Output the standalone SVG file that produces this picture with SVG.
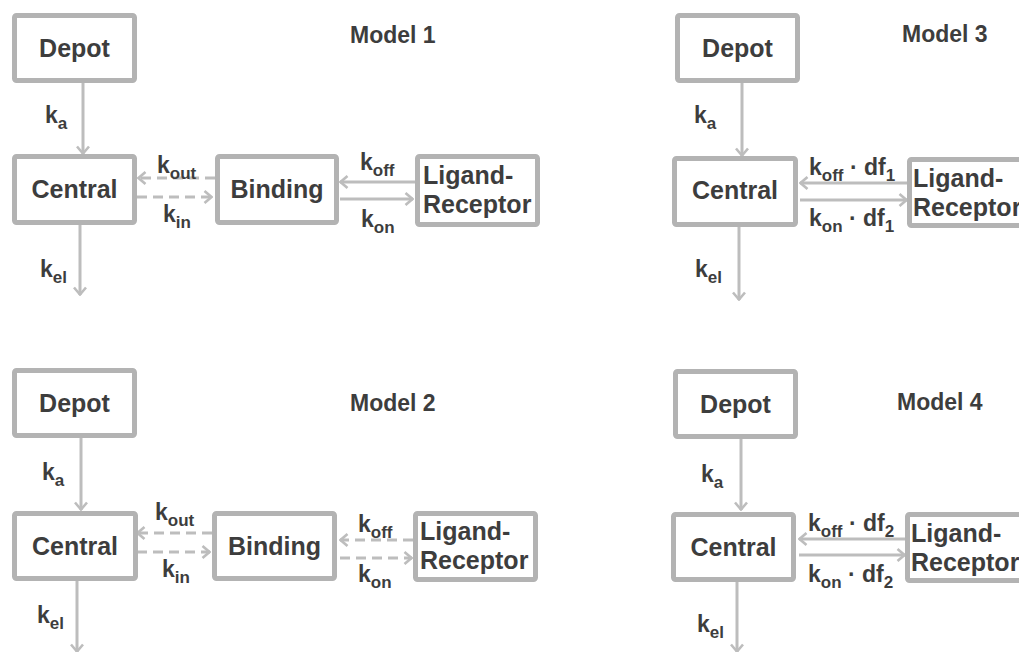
<svg xmlns="http://www.w3.org/2000/svg" width="1019" height="652" viewBox="0 0 1019 652">
  <style>
    .box { fill: #ffffff; stroke: #b3b3b3; stroke-width: 5; }
    .lbl { font-family: "Liberation Sans", Arial, sans-serif; font-weight: bold; fill: #3d3d3d; }
    .name { font-size: 25px; }
    .mid { text-anchor: middle; }
    .title { font-size: 23px; }
    .rate { font-size: 23px; }
    .sub { font-size: 17px; }
    .flow { fill: none; stroke: #bdbdbd; stroke-width: 3; marker-end: url(#head); }
    .dash { stroke-dasharray: 10 6; }
  </style>
  <defs>
    <marker id="head" viewBox="0 0 10 14" refX="9" refY="7" markerWidth="10" markerHeight="14" markerUnits="userSpaceOnUse" orient="auto">
      <path d="M1.5,1 L8.5,7 L1.5,13" fill="none" stroke="#bdbdbd" stroke-width="2.6" stroke-dasharray="none"/>
    </marker>
  </defs>
  <rect width="1019" height="652" fill="#ffffff"/>

  <!-- connectors -->
  <g id="connectors">
    <!-- Model 1 -->
    <path class="flow" d="M83,83 V154"/>
    <path class="flow" d="M80,225 V295"/>
    <path class="flow dash" d="M215,178 H138"/>
    <path class="flow dash" d="M137,197 H212"/>
    <path class="flow" d="M415,182 H340"/>
    <path class="flow" d="M340,199 H413"/>
    <!-- Model 2 -->
    <path class="flow" d="M81,438 V510"/>
    <path class="flow" d="M77,581 V652"/>
    <path class="flow dash" d="M212,533 H137"/>
    <path class="flow dash" d="M137,552 H210"/>
    <path class="flow dash" d="M413,540 H340"/>
    <path class="flow dash" d="M340,558 H412"/>
    <!-- Model 3 -->
    <path class="flow" d="M742,83 V156"/>
    <path class="flow" d="M739,227 V300"/>
    <path class="flow" d="M907,183 H800"/>
    <path class="flow" d="M800,200 H907"/>
    <!-- Model 4 -->
    <path class="flow" d="M741,439 V510"/>
    <path class="flow" d="M737,582 V652"/>
    <path class="flow" d="M905,539 H799"/>
    <path class="flow" d="M799,555 H905"/>
  </g>

  <!-- rate labels -->
  <g id="rates" class="lbl rate">
    <text x="45" y="123">k<tspan class="sub" dy="6">a</tspan></text>
    <text x="40" y="277">k<tspan class="sub" dy="6">el</tspan></text>
    <text x="157" y="173">k<tspan class="sub" dy="6">out</tspan></text>
    <text x="163" y="222">k<tspan class="sub" dy="6">in</tspan></text>
    <text x="360" y="170">k<tspan class="sub" dy="6">off</tspan></text>
    <text x="361" y="227">k<tspan class="sub" dy="6">on</tspan></text>

    <text x="42" y="480">k<tspan class="sub" dy="6">a</tspan></text>
    <text x="37" y="623">k<tspan class="sub" dy="6">el</tspan></text>
    <text x="155" y="520">k<tspan class="sub" dy="6">out</tspan></text>
    <text x="162" y="577">k<tspan class="sub" dy="6">in</tspan></text>
    <text x="358" y="532">k<tspan class="sub" dy="6">off</tspan></text>
    <text x="358" y="582">k<tspan class="sub" dy="6">on</tspan></text>

    <text x="694" y="123">k<tspan class="sub" dy="6">a</tspan></text>
    <text x="695" y="277">k<tspan class="sub" dy="6">el</tspan></text>
    <text x="809" y="175">k<tspan class="sub" dy="6">off</tspan><tspan dy="-6"> · df</tspan><tspan class="sub" dy="6">1</tspan></text>
    <text x="809" y="226">k<tspan class="sub" dy="6">on</tspan><tspan dy="-6">  · df</tspan><tspan class="sub" dy="6">1</tspan></text>

    <text x="701" y="482">k<tspan class="sub" dy="6">a</tspan></text>
    <text x="697" y="632">k<tspan class="sub" dy="6">el</tspan></text>
    <text x="808" y="531">k<tspan class="sub" dy="6">off</tspan><tspan dy="-6"> · df</tspan><tspan class="sub" dy="6">2</tspan></text>
    <text x="808" y="582">k<tspan class="sub" dy="6">on</tspan><tspan dy="-6">  · df</tspan><tspan class="sub" dy="6">2</tspan></text>
  </g>

  <!-- titles -->
  <g id="titles" class="lbl title">
    <text x="350" y="43">Model 1</text>
    <text x="350" y="411">Model 2</text>
    <text x="902" y="42">Model 3</text>
    <text x="897" y="410">Model 4</text>
  </g>

  <!-- Model 1 -->
  <g id="m1-depot"><rect class="box" x="14.5" y="15.5" width="120" height="65" rx="2"/><text class="lbl name mid" x="74.5" y="57">Depot</text></g>
  <g id="m1-central"><rect class="box" x="14.5" y="156.5" width="120" height="66" rx="2"/><text class="lbl name mid" x="74.5" y="198">Central</text></g>
  <g id="m1-binding"><rect class="box" x="217.5" y="156.5" width="119" height="66" rx="2"/><text class="lbl name mid" x="277" y="198">Binding</text></g>
  <g id="m1-ligand"><rect class="box" x="417.5" y="156.5" width="120" height="68" rx="2"/><text class="lbl name" x="423" y="184">Ligand-</text><text class="lbl name" x="423" y="213">Receptor</text></g>

  <!-- Model 2 -->
  <g id="m2-depot"><rect class="box" x="14.5" y="370.5" width="120" height="65" rx="2"/><text class="lbl name mid" x="74.5" y="412">Depot</text></g>
  <g id="m2-central"><rect class="box" x="14.5" y="513.5" width="121" height="65" rx="2"/><text class="lbl name mid" x="75" y="555">Central</text></g>
  <g id="m2-binding"><rect class="box" x="214.5" y="513.5" width="120" height="65" rx="2"/><text class="lbl name mid" x="274.5" y="555">Binding</text></g>
  <g id="m2-ligand"><rect class="box" x="415.5" y="513.5" width="120" height="66" rx="2"/><text class="lbl name" x="420" y="540">Ligand-</text><text class="lbl name" x="420" y="569">Receptor</text></g>

  <!-- Model 3 -->
  <g id="m3-depot"><rect class="box" x="677.5" y="15.5" width="120" height="65" rx="2"/><text class="lbl name mid" x="737.5" y="57">Depot</text></g>
  <g id="m3-central"><rect class="box" x="674.5" y="158.5" width="121" height="66" rx="2"/><text class="lbl name mid" x="735" y="199">Central</text></g>
  <g id="m3-ligand"><rect class="box" x="909.5" y="159.5" width="130" height="66" rx="2"/><text class="lbl name" x="913" y="187">Ligand-</text><text class="lbl name" x="913" y="216">Receptor</text></g>

  <!-- Model 4 -->
  <g id="m4-depot"><rect class="box" x="675.5" y="371.5" width="120" height="65" rx="2"/><text class="lbl name mid" x="735.5" y="413">Depot</text></g>
  <g id="m4-central"><rect class="box" x="673.5" y="514.5" width="120" height="65" rx="2"/><text class="lbl name mid" x="733.5" y="556">Central</text></g>
  <g id="m4-ligand"><rect class="box" x="907.5" y="514.5" width="130" height="66" rx="2"/><text class="lbl name" x="911" y="542">Ligand-</text><text class="lbl name" x="911" y="571">Receptor</text></g>
</svg>
